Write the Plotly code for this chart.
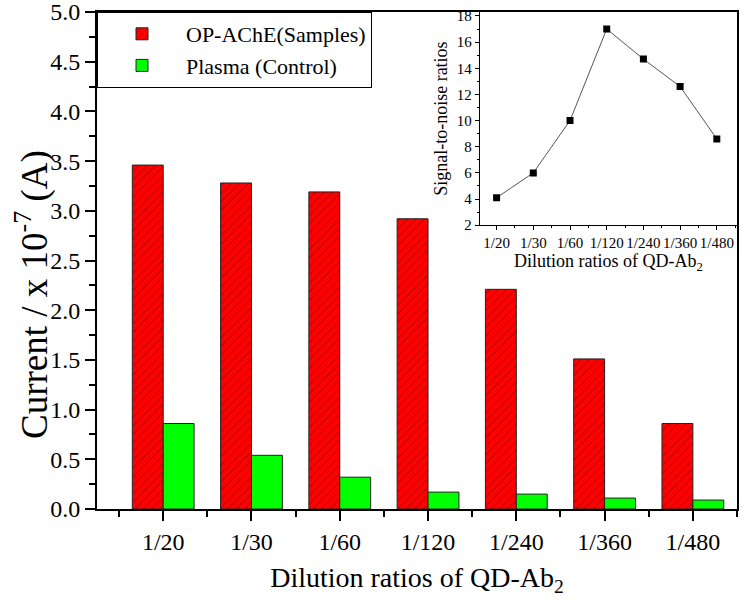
import plotly.graph_objects as go

categories = ["1/20", "1/30", "1/60", "1/120", "1/240", "1/360", "1/480"]
samples = [3.46, 3.28, 3.19, 2.92, 2.21, 1.51, 0.86]
control = [0.86, 0.54, 0.32, 0.17, 0.15, 0.11, 0.09]
snr = [4.1, 6.0, 10.0, 17.0, 14.7, 12.6, 8.6]

FONT = "Liberation Serif"
pos = list(range(len(categories)))

fig = go.Figure()
fig.add_trace(go.Bar(
    x=pos, y=samples, name="OP-AChE(Samples)",
    marker=dict(color="#ff0000", line=dict(color="#222", width=1),
                pattern=dict(shape="/", fgcolor="#000000", bgcolor="#ff0000",
                             size=6, solidity=0.12)),
    xaxis="x", yaxis="y"))
fig.add_trace(go.Bar(
    x=pos, y=control, name="Plasma (Control)",
    marker=dict(color="#00ff00", line=dict(color="#222", width=1)),
    xaxis="x", yaxis="y"))
fig.add_trace(go.Scatter(
    x=pos, y=snr, mode="lines+markers", showlegend=False,
    line=dict(color="#555", width=1),
    marker=dict(symbol="square", size=7, color="black"),
    xaxis="x2", yaxis="y2"))

fig.update_layout(
    width=747, height=602,
    margin=dict(l=97, r=10, t=12, b=93, autoexpand=False),
    paper_bgcolor="white", plot_bgcolor="white",
    font=dict(family=FONT, color="black"),
    barmode="group", bargap=0.3, bargroupgap=0,
    showlegend=True,
    legend=dict(x=0, y=1, xanchor="left", yanchor="top",
                bgcolor="white", bordercolor="black", borderwidth=1,
                font=dict(size=22, family=FONT), tracegroupgap=0,
                itemwidth=78),
    xaxis=dict(domain=[0, 1], range=[-0.75, 6.5], automargin=False,
               tickmode="array", tickvals=pos, ticktext=categories,
               showline=True, linecolor="black", linewidth=2, mirror=True,
               ticks="outside", ticklen=10, tickwidth=2, tickcolor="black",
               tickfont=dict(size=24, family=FONT), ticklabeloverflow="allow",
               minor=dict(ticks="outside", ticklen=6, tickwidth=2, tickcolor="black",
                          tick0=0.5, dtick=1),
               title=dict(text="Dilution ratios of QD-Ab<sub>2</sub>",
                          font=dict(size=28, family=FONT), standoff=14),
               showgrid=False, zeroline=False),
    yaxis=dict(domain=[0, 1], range=[0, 5], dtick=0.5, tickformat=".1f", automargin=False,
               showline=True, linecolor="black", linewidth=2, mirror=True,
               ticks="outside", ticklen=10, tickwidth=2, tickcolor="black",
               tickfont=dict(size=24, family=FONT), ticklabeloverflow="allow",
               minor=dict(ticks="outside", ticklen=6, tickwidth=2, tickcolor="black", dtick=0.25),
               showgrid=False, zeroline=False),
    xaxis2=dict(domain=[0.598, 1], anchor="y2", range=[-0.46, 6.55], automargin=False,
                tickmode="array", tickvals=pos, ticktext=categories,
                showline=True, linecolor="black", linewidth=1,
                ticks="outside", ticklen=4, tickwidth=1, tickcolor="black",
                tickfont=dict(size=15, family=FONT), ticklabeloverflow="allow",
                minor=dict(ticks="outside", ticklen=2, tickwidth=1, tickcolor="black",
                           tick0=0.5, dtick=1),
                title=dict(text="Dilution ratios of QD-Ab<sub>2</sub>",
                           font=dict(size=18, family=FONT), standoff=2),
                showgrid=False, zeroline=False),
    yaxis2=dict(domain=[0.571, 1], anchor="x2", range=[2, 18.3], dtick=2, automargin=False,
                showline=True, linecolor="black", linewidth=1,
                ticks="outside", ticklen=4, tickwidth=1, tickcolor="black",
                tickfont=dict(size=15, family=FONT), ticklabeloverflow="allow",
                minor=dict(ticks="outside", ticklen=2, tickwidth=1, tickcolor="black", dtick=1),
                title=dict(text="Signal-to-noise ratios",
                           font=dict(size=18, family=FONT), standoff=4),
                showgrid=False, zeroline=False),
    annotations=[dict(text="Current / x 10<sup>-7</sup> (A)", textangle=-90,
                      xref="paper", yref="paper", x=(32 - 97) / 640, y=(509 - 295) / 497,
                      xanchor="center", yanchor="middle", showarrow=False,
                      font=dict(size=37, family=FONT))],
)

fig.write_html("out.html", config={"displayModeBar": False},
               post_script="document.body.style.margin='0';")
